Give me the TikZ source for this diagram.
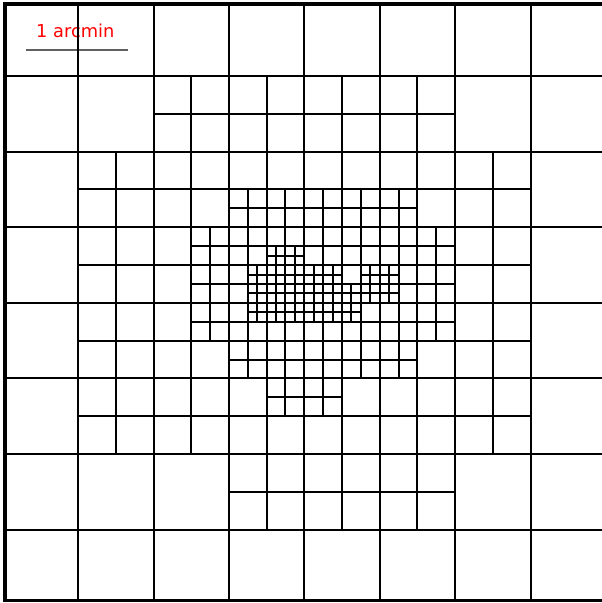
\documentclass[tikz,border=0pt]{standalone}
\usepackage{fontspec}
\newfontfamily\scalebarfont{DejaVu Sans}
\tikzset{
  gridline/.style={line width=2bp, black},
  barline/.style={line width=1.3bp, black!62},
  barlabel/.style={text=red, font=\scalebarfont\fontsize{17.8bp}{20bp}\selectfont, inner sep=0pt, anchor=base west}
}
% fine grid position -> pixel (bp), snapped to whole pixels
\newcommand\gx[1]{round(2.7+9.425*(#1))}
\newcommand\gy[1]{round(0.5+9.45*(#1))}
\newcommand\qcell[3]{%
  \draw[gridline] ({\gx{#1+#3/2}},{\gy{#2}}) -- ({\gx{#1+#3/2}},{\gy{#2+#3}});
  \draw[gridline] ({\gx{#1}},{\gy{#2+#3/2}}) -- ({\gx{#1+#3}},{\gy{#2+#3/2}});
}
\begin{document}
\begin{tikzpicture}[x=1bp,y=-1bp]
\useasboundingbox (0,0) rectangle (602,603);
\clip (0,0) rectangle (602,603);
% scale bar
\coordinate (barL) at (26,50);
\coordinate (barR) at (128,50);
\draw[barline] (barL) -- (barR);
\node[barlabel] (label) at (36,38) {1 arcmin};
% coarse grid
\foreach \k in {1,...,7} {
  \draw[gridline] ({\gx{8*\k}},4) -- ({\gx{8*\k}},600);
  \draw[gridline] (5,{\gy{8*\k}}) -- (610,{\gy{8*\k}});
}
% level 0 cells split
\foreach \j/\lo/\hi in {1/2/5,2/1/6,3/1/6,4/1/6,5/1/6,6/3/5}
  \foreach \i in {\lo,...,\hi} { \qcell{8*\i}{8*\j}{8} }
% level 1 cells split
\foreach \r/\lo/\hi in {5/6/10,6/5/11,7/5/11,8/5/11,9/6/10,10/7/8}
  \foreach \c in {\lo,...,\hi} { \qcell{4*\c}{4*\r}{4} }
% level 2 cells split
\foreach \a/\b in {14/13,15/13,
  13/14,14/14,15/14,16/14,17/14,19/14,20/14,
  13/15,14/15,15/15,16/15,17/15,18/15,19/15,20/15,
  13/16,14/16,15/16,16/16,17/16,18/16}
  { \qcell{2*\a}{2*\b}{2} }
% frame
\draw[line width=4bp] (5,602) -- (5,4) -- (610,4);
\draw[line width=3bp] (3,600.5) -- (610,600.5);
\end{tikzpicture}
\end{document}
